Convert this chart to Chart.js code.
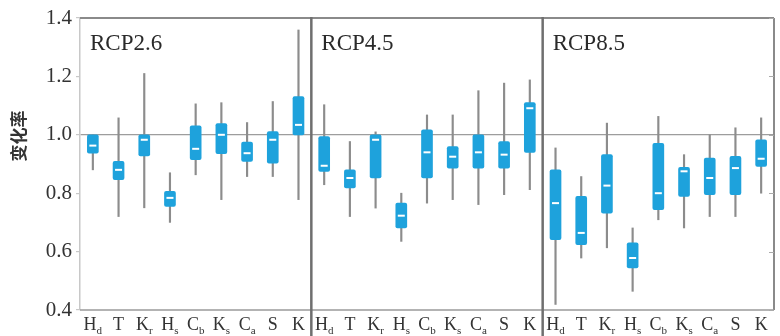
<!DOCTYPE html>
<html>
<head>
<meta charset="utf-8">
<script src="https://cdn.jsdelivr.net/npm/chart.js@4.4.1/dist/chart.umd.min.js"></script>
<style>
html,body{margin:0;padding:0;background:#fff;}
#c{display:block;}
</style>
</head>
<body>
<canvas id="c" width="780" height="336"></canvas>
<script>
// ---- data ----
const scenarios = ['RCP2.6', 'RCP4.5', 'RCP8.5'];
const categories = ['H', 'T', 'K', 'H', 'C', 'K', 'C', 'S', 'K'];
const categorySubs = ['d', '', 'r', 's', 'b', 's', 'a', '', ''];
const yTicks = [0.4, 0.6, 0.8, 1.0, 1.2, 1.4];

const rcp26Low  = [0.88, 0.72, 0.75, 0.70, 0.863, 0.778, 0.857, 0.857, 0.778];
const rcp26Q1   = [0.937, 0.846, 0.928, 0.755, 0.915, 0.935, 0.909, 0.903, 1.0];
const rcp26Med  = [0.963, 0.88, 0.983, 0.784, 0.952, 1.0, 0.937, 0.983, 1.034];
const rcp26Q3   = [1.0, 0.909, 1.0, 0.806, 1.031, 1.038, 0.975, 1.011, 1.131];
const rcp26High = [1.0, 1.058, 1.21, 0.87, 1.106, 1.11, 1.042, 1.114, 1.359];

const rcp45Low  = [0.829, 0.72, 0.749, 0.635, 0.766, 0.778, 0.761, 0.795, 0.812];
const rcp45Q1   = [0.875, 0.818, 0.852, 0.681, 0.852, 0.886, 0.886, 0.886, 0.94];
const rcp45Med  = [0.894, 0.852, 0.983, 0.723, 0.94, 0.925, 0.94, 0.932, 1.091];
const rcp45Q3   = [0.994, 0.88, 1.0, 0.766, 1.017, 0.96, 1.0, 0.977, 1.11];
const rcp45High = [1.103, 0.977, 1.01, 0.80, 1.068, 1.068, 1.151, 1.177, 1.188];

const rcp85Low  = [0.419, 0.578, 0.613, 0.464, 0.709, 0.681, 0.72, 0.72, 0.80];
const rcp85Q1   = [0.641, 0.624, 0.732, 0.544, 0.744, 0.789, 0.795, 0.795, 0.892];
const rcp85Med  = [0.766, 0.664, 0.826, 0.578, 0.80, 0.875, 0.852, 0.886, 0.918];
const rcp85Q3   = [0.88, 0.789, 0.932, 0.63, 0.971, 0.889, 0.92, 0.926, 0.983];
const rcp85High = [0.955, 0.857, 1.04, 0.681, 1.063, 0.932, 1.0, 1.024, 1.058];

// ---- build ----
const lows  = [...rcp26Low, ...rcp45Low, ...rcp85Low];
const q1s   = [...rcp26Q1, ...rcp45Q1, ...rcp85Q1];
const meds  = [...rcp26Med, ...rcp45Med, ...rcp85Med];
const q3s   = [...rcp26Q3, ...rcp45Q3, ...rcp85Q3];
const highs = [...rcp26High, ...rcp45High, ...rcp85High];
const labels = [];
scenarios.forEach((s, si) => categories.forEach((c, ci) => labels.push(s + ':' + c + categorySubs[ci])));

const SERIF = '"Liberation Serif", "Times New Roman", serif';
const BOX = '#1ea2dc';

const framePlugin = {
  id: 'frame',
  afterDatasetsDraw(chart) {
    const ctx = chart.ctx, a = chart.chartArea, x = chart.scales.x, y = chart.scales.y;
    const n = categories.length;
    ctx.save();
    // top & right frame
    ctx.strokeStyle = '#8a8a8a';
    ctx.lineWidth = 2;
    ctx.beginPath();
    ctx.moveTo(a.left, a.top); ctx.lineTo(a.right, a.top);
    ctx.moveTo(a.right, a.top); ctx.lineTo(a.right, a.bottom);
    ctx.stroke();
    // bottom line
    ctx.strokeStyle = '#9a9a9a';
    ctx.lineWidth = 1.5;
    ctx.beginPath();
    ctx.moveTo(a.left, a.bottom); ctx.lineTo(a.right, a.bottom);
    ctx.stroke();
    // right inward ticks
    ctx.strokeStyle = '#aaa';
    ctx.lineWidth = 1;
    yTicks.forEach(v => {
      const py = Math.round(y.getPixelForValue(v)) + 0.5;
      ctx.beginPath(); ctx.moveTo(a.right - 5, py); ctx.lineTo(a.right, py); ctx.stroke();
    });
    // dividers
    ctx.strokeStyle = '#6f6f6f';
    ctx.lineWidth = 2.5;
    for (let p = 1; p < scenarios.length; p++) {
      const px = (x.getPixelForValue(p * n - 1) + x.getPixelForValue(p * n)) / 2;
      ctx.beginPath(); ctx.moveTo(px, a.top - 1); ctx.lineTo(px, chart.height); ctx.stroke();
    }
    // panel titles
    ctx.fillStyle = '#2a2a2a';
    ctx.font = '23px ' + SERIF;
    ctx.textAlign = 'left';
    ctx.textBaseline = 'alphabetic';
    scenarios.forEach((s, p) => {
      const left = p === 0 ? a.left : (x.getPixelForValue(p * n - 1) + x.getPixelForValue(p * n)) / 2;
      ctx.fillText(s, left + 10, a.top + 32);
    });
    // x labels with subscripts
    labels.forEach((lab, i) => {
      const ci = i % n;
      const main = categories[ci], sub = categorySubs[ci];
      ctx.font = '18px ' + SERIF;
      const wm = ctx.measureText(main).width;
      ctx.font = '11px ' + SERIF;
      const ws = sub ? ctx.measureText(sub).width : 0;
      const cx = x.getPixelForValue(i);
      const start = cx - (wm + ws) / 2;
      ctx.fillStyle = '#333';
      ctx.font = '18px ' + SERIF;
      ctx.fillText(main, start, a.bottom + 20);
      if (sub) {
        ctx.font = '11px ' + SERIF;
        ctx.fillText(sub, start + wm, a.bottom + 24);
      }
    });
    // y title
    ctx.translate(19, 136);
    ctx.rotate(-Math.PI / 2);
    ctx.textAlign = 'center';
    ctx.textBaseline = 'middle';
    ctx.fillStyle = '#333';
    ctx.font = 'bold 17px "Noto Sans CJK SC", sans-serif';
    ctx.fillText('变化率', 0, 0);
    ctx.restore();
  }
};

new Chart(document.getElementById('c'), {
  type: 'bar',
  data: {
    labels: labels,
    datasets: [
      {
        label: 'whisker',
        data: lows.map((l, i) => [l, highs[i]]),
        backgroundColor: '#8c8c8c',
        barThickness: 1.5,
        grouped: false,
        order: 3
      },
      {
        label: 'box',
        data: q1s.map((q, i) => [q, q3s[i]]),
        backgroundColor: BOX,
        barThickness: 11,
        borderRadius: 2,
        borderSkipped: false,
        grouped: false,
        order: 2
      },
      {
        type: 'line',
        label: 'median',
        data: meds,
        showLine: false,
        pointStyle: 'line',
        pointRadius: 3.5,
        pointBorderWidth: 2,
        pointBorderColor: '#ffffff',
        pointBackgroundColor: '#ffffff',
        order: 1
      }
    ]
  },
  options: {
    responsive: false,
    animation: false,
    devicePixelRatio: 1,
    layout: { padding: { top: 18, right: 2, left: 0, bottom: 0 } },
    plugins: { legend: { display: false }, tooltip: { enabled: false } },
    scales: {
      x: {
        type: 'category',
        offset: true,
        grid: { display: false },
        border: { display: false },
        ticks: { display: false },
        afterFit(s) { s.height = 26; }
      },
      y: {
        min: 0.4,
        max: 1.4,
        afterBuildTicks(s) { s.ticks = yTicks.map(v => ({ value: v })); },
        ticks: {
          font: { family: SERIF, size: 21 },
          color: '#333',
          padding: 4,
          callback: v => v.toFixed(1)
        },
        grid: {
          color: c => (c.tick && Math.abs(c.tick.value - 1.0) < 1e-9) ? '#9d9d9d' : 'rgba(0,0,0,0)',
          tickColor: '#c8c8c8',
          tickLength: 4,
          lineWidth: 1.2
        },
        border: { display: true, color: '#c8c8c8', width: 1.5 },
        afterFit(s) { s.width = 80; }
      }
    }
  },
  plugins: [framePlugin]
});
</script>
</body>
</html>
